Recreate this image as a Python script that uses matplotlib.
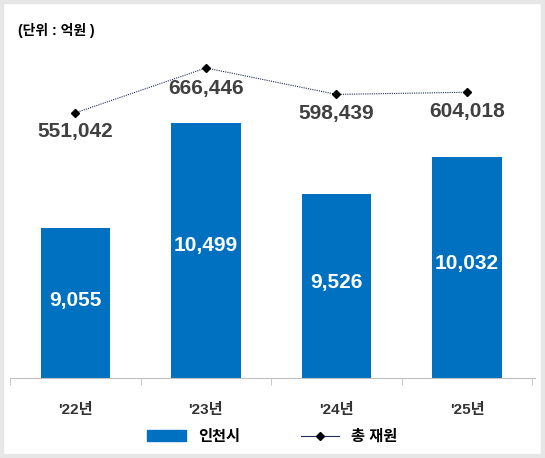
import matplotlib.pyplot as plt
from matplotlib.patches import Rectangle

years = ["'22년", "'23년", "'24년", "'25년"]
incheon = [9055, 10499, 9526, 10032]
total = [551042, 666446, 598439, 604018]

plt.rcParams["font.family"] = ["Liberation Sans", "Noto Sans CJK KR"]

blue = "#0070c0"
navy = "#1f2d5a"

fig = plt.figure(figsize=(5.45, 4.58), dpi=100, facecolor="white")
fig.patches.append(Rectangle((0, 0), 1, 1, transform=fig.transFigure, fill=False,
                             edgecolor="#e6e6e6", lw=6, zorder=-1))
ax = fig.add_axes([10 / 545, 80 / 458, 525 / 545, 364 / 458])
x = list(range(len(years)))
ax.bar(x, incheon, width=0.53, color=blue, zorder=2)
ax.set_ylim(7000, 12000)
ax.set_xlim(-0.48, 3.52)
for xi, v in zip(x, incheon):
    ax.text(xi, 7000 + (v - 7000) * 0.52, f"{v:,}", ha="center", va="center",
            color="white", fontsize=15, fontweight="bold", zorder=3)

for s in ["top", "right", "left"]:
    ax.spines[s].set_visible(False)
ax.spines["bottom"].set_color("#bfbfbf")
ax.set_yticks([])
ax.set_xticks([i + 0.5 for i in range(-1, 4)], minor=True)
ax.tick_params(axis="x", which="minor", length=5, color="#bfbfbf")
ax.set_xticks(x)
ax.set_xticklabels(years, fontsize=11, fontweight="bold", color="#333333")
ax.tick_params(axis="x", which="major", length=0, pad=18)

ax2 = ax.twinx()
ax2.set_ylim(-130000, 805000)
ax2.plot(x, total, color=navy, lw=0.8, ls=(0, (1, 1)), marker="D", markersize=4,
         markerfacecolor="black", markeredgecolor="black", zorder=4)
for xi, v in zip(x, total):
    ax2.text(xi, v - 24000 if xi != 1 else v - 28000, f"{v:,}", ha="center", va="top",
             color="#404040", fontsize=15, fontweight="bold")
ax2.set_yticks([])
for s in ax2.spines.values():
    s.set_visible(False)

fig.text(18 / 545, 1 - 30 / 458, "(단위 : 억원 )", fontsize=10, fontweight="bold",
         va="center", ha="left")

h1 = Rectangle((0, 0), 1, 1, color=blue)
h2 = plt.Line2D([], [], color=navy, lw=0.8, marker="D", markersize=4,
                markerfacecolor="black", markeredgecolor="black")
fig.legend([h1, h2], ["인천시", "총 재원"], loc="center", bbox_to_anchor=(0.5, 1 - 437 / 458),
           ncol=2, frameon=False, fontsize=11, columnspacing=4, handlelength=2.5,
           prop={"weight": "bold", "size": 11})

fig.savefig("out.png", dpi=100)
